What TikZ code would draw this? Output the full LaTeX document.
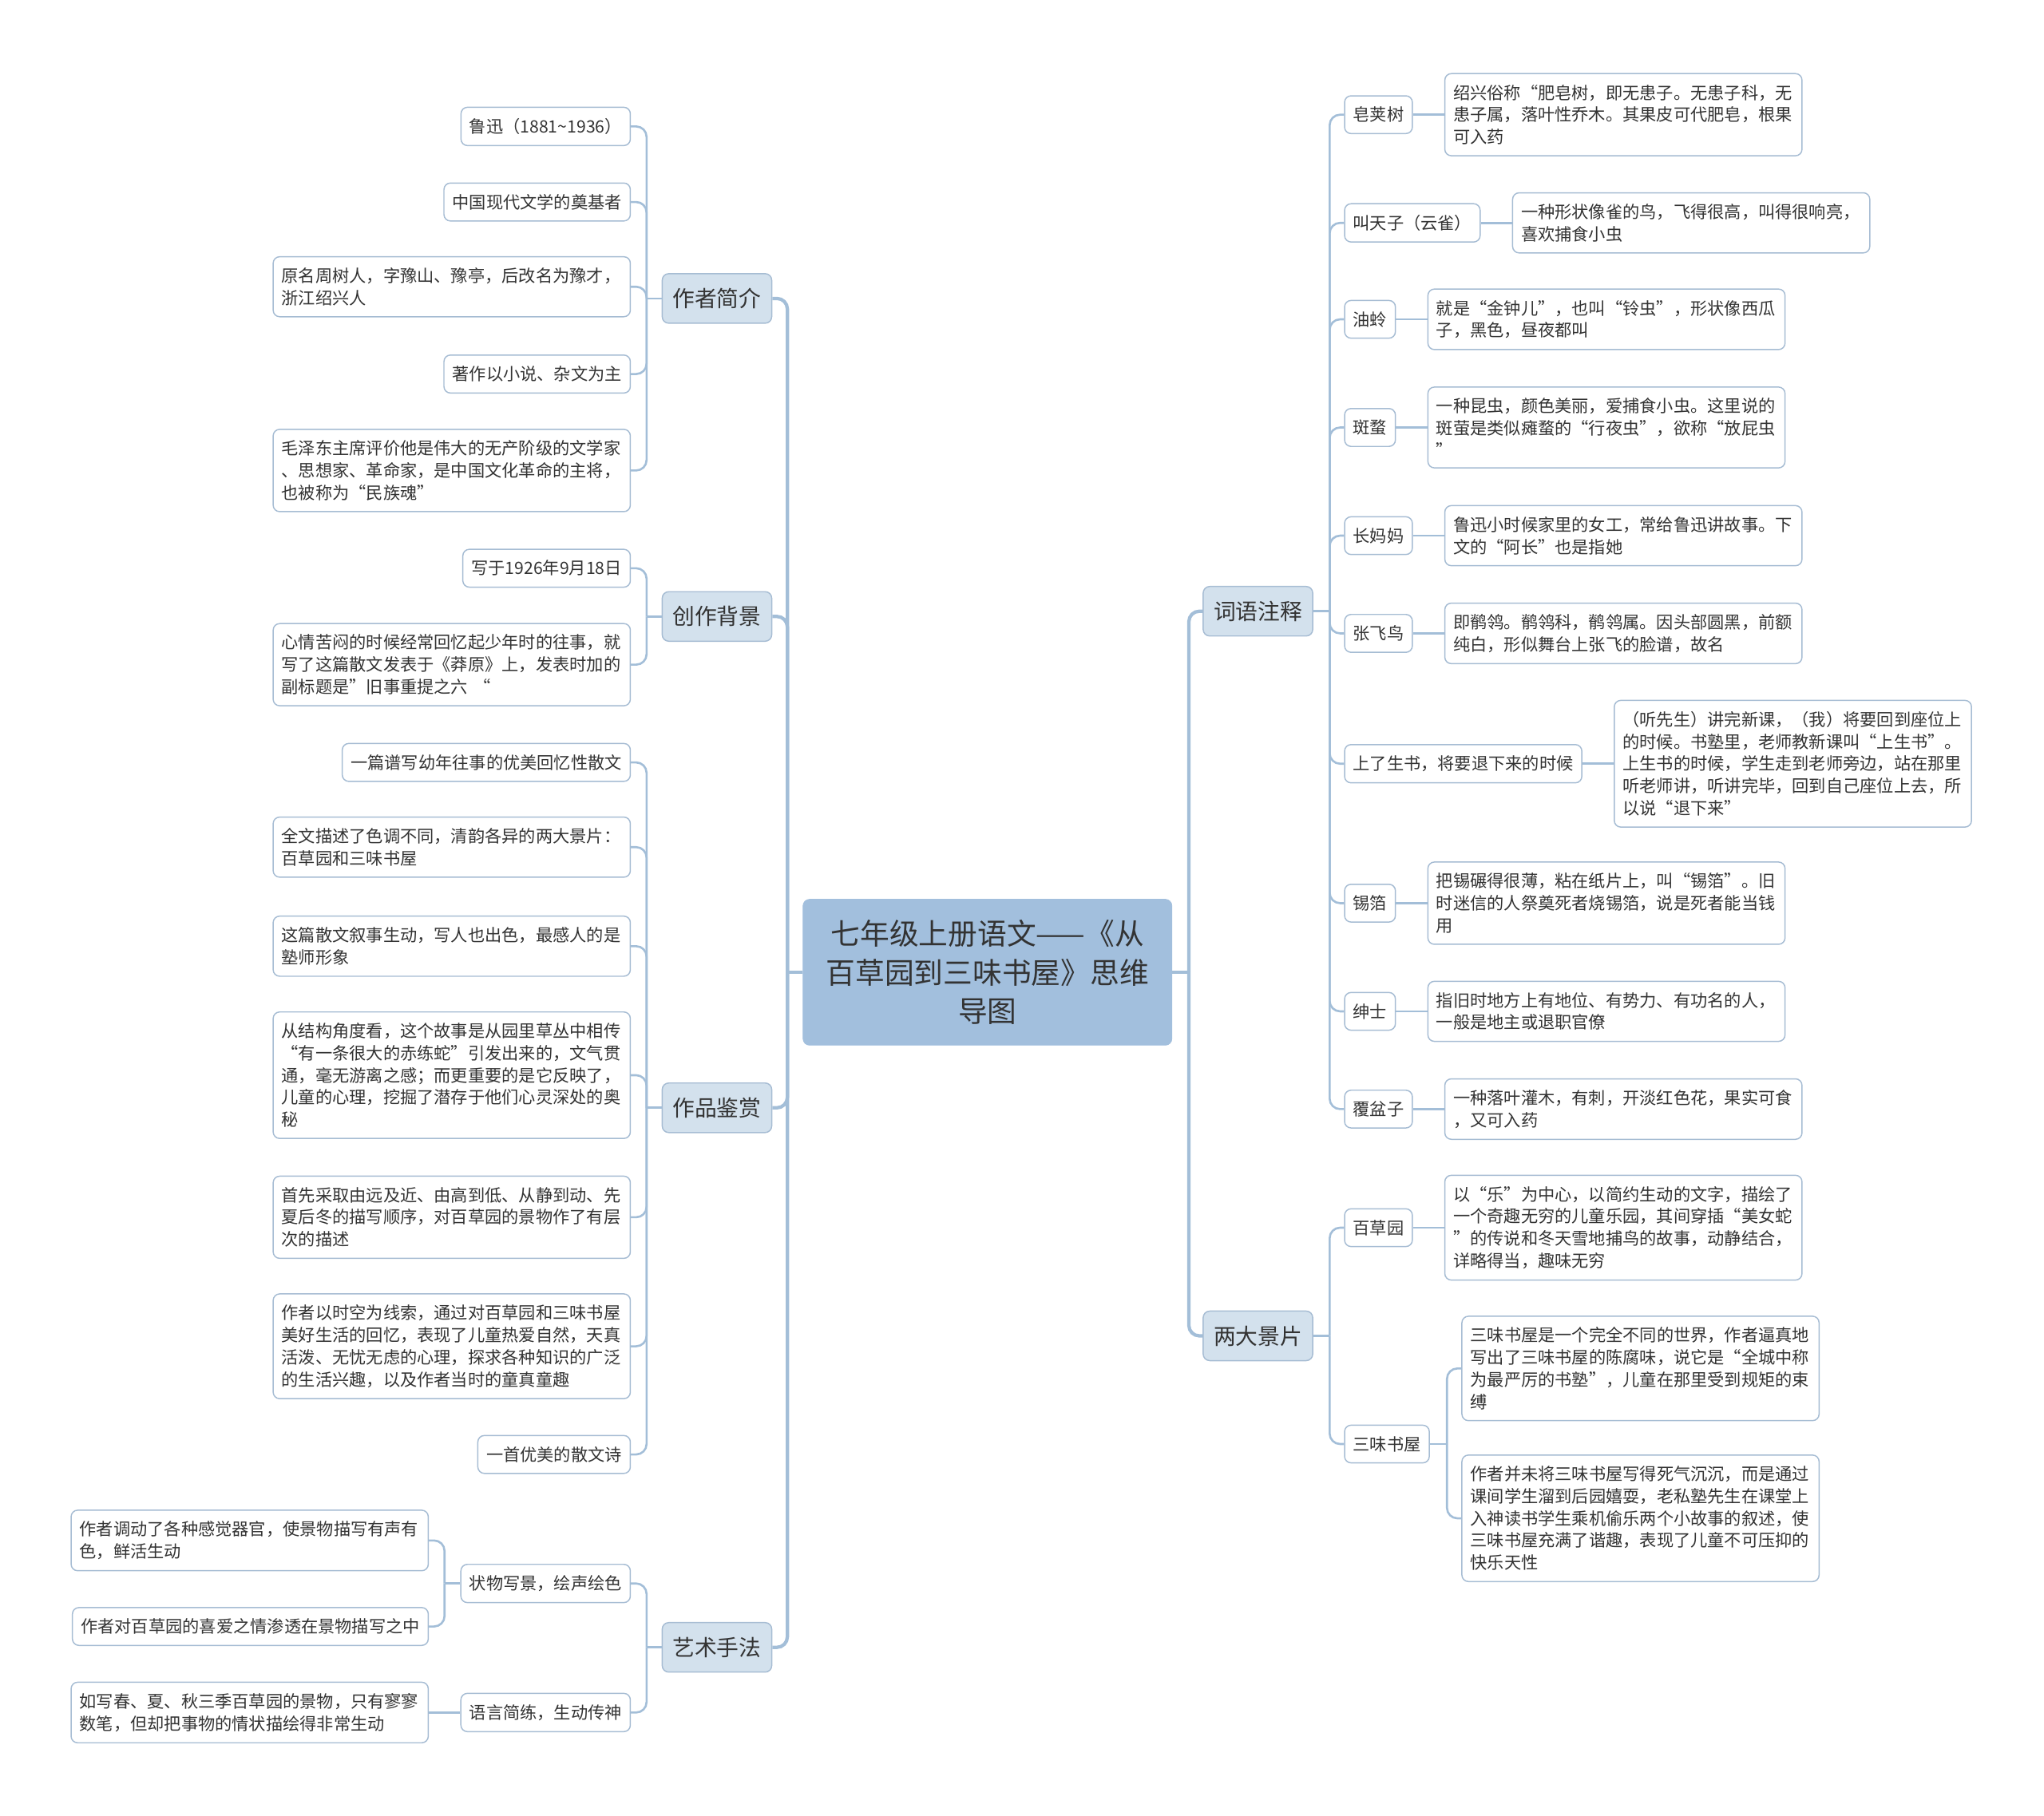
\documentclass[tikz,border=0pt]{standalone}
\usepackage{fontspec}
\setmainfont{Noto Sans CJK SC}
\definecolor{linec}{HTML}{A3BED8}
\definecolor{bordc}{HTML}{A6BCD3}
\definecolor{mainc}{HTML}{A2BFDD}
\definecolor{lonec}{HTML}{D3E1ED}
\definecolor{txtc}{HTML}{333333}
\newcommand\mysmall{\fontsize{13}{17}\selectfont}
\newcommand\mymid{\fontsize{17}{20}\selectfont}
\newcommand\mybig{\fontsize{22.5}{29.5}\selectfont}
\tikzset{
  leaf/.style={draw=bordc, line width=0.9pt, rounded corners=5pt, fill=white, text=txtc,
    font=\mysmall, inner xsep=6.5pt, inner ysep=8.5pt, align=left},
  wide/.style={leaf, text width=261pt},
  lone/.style={draw=bordc, line width=0.9pt, rounded corners=5pt, fill=lonec, text=txtc,
    font=\mymid, minimum width=84pt, minimum height=38pt, inner sep=0pt},
  root/.style={draw=mainc, fill=mainc, rounded corners=5pt, text=black!80, font=\mybig,
    minimum width=283pt, minimum height=112pt, text width=262pt, align=center, inner sep=0pt},
  mline/.style={draw=linec, line width=2.6pt, rounded corners=8pt},
  sline/.style={draw=linec, line width=1.6pt, rounded corners=8pt},
}
\begin{document}
\begin{tikzpicture}[x=1pt,y=-1pt]
\useasboundingbox (0,0) rectangle (1568,1393);

% root
\node[root] (root) at (757.5,746) {七年级上册语文——《从\\百草园到三味书屋》思维\\导图};

% level 1
\node[lone] (zz) at (550,229) {作者简介};
\node[lone] (cz) at (550,473) {创作背景};
\node[lone] (zp) at (550,850) {作品鉴赏};
\node[lone] (ys) at (550,1264) {艺术手法};
\node[lone] (cy) at (965,469) {词语注释};
\node[lone] (lj) at (965,1025) {两大景片};

% 作者简介
\node[leaf, anchor=east] (a1) at (484,97) {鲁迅（1881\textasciitilde 1936）};
\node[leaf, anchor=east] (a2) at (484,155) {中国现代文学的奠基者};
\node[wide, anchor=east] (a3) at (484,220) {原名周树人，字豫山、豫亭，后改名为豫才，\\浙江绍兴人};
\node[leaf, anchor=east] (a4) at (484,287) {著作以小说、杂文为主};
\node[wide, anchor=east] (a5) at (484,361) {毛泽东主席评价他是伟大的无产阶级的文学家\\、思想家、革命家，是中国文化革命的主将，\\也被称为“民族魂”};

% 创作背景
\node[leaf, anchor=east] (b1) at (484,436) {写于1926年9月18日};
\node[wide, anchor=east] (b2) at (484,510) {心情苦闷的时候经常回忆起少年时的往事，就\\写了这篇散文发表于《莽原》上，发表时加的\\副标题是”旧事重提之六 “};

% 作品鉴赏
\node[leaf, anchor=east] (c1) at (484,585) {一篇谱写幼年往事的优美回忆性散文};
\node[wide, anchor=east] (c2) at (484,650) {全文描述了色调不同，清韵各异的两大景片：\\百草园和三味书屋};
\node[wide, anchor=east] (c3) at (484,726) {这篇散文叙事生动，写人也出色，最感人的是\\塾师形象};
\node[wide, anchor=east] (c4) at (484,825) {从结构角度看，这个故事是从园里草丛中相传\\“有一条很大的赤练蛇”引发出来的，文气贯\\通，毫无游离之感；而更重要的是它反映了，\\儿童的心理，挖掘了潜存于他们心灵深处的奥\\秘};
\node[wide, anchor=east] (c5) at (484,934) {首先采取由远及近、由高到低、从静到动、先\\夏后冬的描写顺序，对百草园的景物作了有层\\次的描述};
\node[wide, anchor=east] (c6) at (484,1033) {作者以时空为线索，通过对百草园和三味书屋\\美好生活的回忆，表现了儿童热爱自然，天真\\活泼、无忧无虑的心理，探求各种知识的广泛\\的生活兴趣，以及作者当时的童真童趣};
\node[leaf, anchor=east] (c7) at (484,1116) {一首优美的散文诗};

% 艺术手法
\node[leaf, anchor=east] (d1) at (484,1215) {状物写景，绘声绘色};
\node[leaf, anchor=east] (d2) at (484,1314) {语言简练，生动传神};
\node[wide, anchor=east] (d1a) at (329,1182) {作者调动了各种感觉器官，使景物描写有声有\\色，鲜活生动};
\node[leaf, anchor=east] (d1b) at (329,1248) {作者对百草园的喜爱之情渗透在景物描写之中};
\node[wide, anchor=east] (d2a) at (329,1314) {如写春、夏、秋三季百草园的景物，只有寥寥\\数笔，但却把事物的情状描绘得非常生动};

% 词语注释
\node[leaf, anchor=west] (e1) at (1031,88) {皂荚树};
\node[leaf, anchor=west] (e2) at (1031,171) {叫天子（云雀）};
\node[leaf, anchor=west] (e3) at (1031,245) {油蛉};
\node[leaf, anchor=west] (e4) at (1031,328) {斑蝥};
\node[leaf, anchor=west] (e5) at (1031,411) {长妈妈};
\node[leaf, anchor=west] (e6) at (1031,486) {张飞鸟};
\node[leaf, anchor=west] (e7) at (1031,586) {上了生书，将要退下来的时候};
\node[leaf, anchor=west] (e8) at (1031,693) {锡箔};
\node[leaf, anchor=west] (e9) at (1031,776) {绅士};
\node[leaf, anchor=west] (e10) at (1031,851) {覆盆子};

\node[wide, anchor=west] (e1d) at ([xshift=24pt]e1.east) {绍兴俗称“肥皂树，即无患子。无患子科，无\\患子属，落叶性乔木。其果皮可代肥皂，根果\\可入药};
\node[wide, anchor=west] (e2d) at ([xshift=24pt]e2.east) {一种形状像雀的鸟，飞得很高，叫得很响亮，\\喜欢捕食小虫};
\node[wide, anchor=west] (e3d) at ([xshift=24pt]e3.east) {就是“金钟儿”，也叫“铃虫”，形状像西瓜\\子，黑色，昼夜都叫};
\node[wide, anchor=west] (e4d) at ([xshift=24pt]e4.east) {一种昆虫，颜色美丽，爱捕食小虫。这里说的\\斑萤是类似瘫蝥的“行夜虫”，欲称“放屁虫\\”};
\node[wide, anchor=west] (e5d) at ([xshift=24pt]e5.east) {鲁迅小时候家里的女工，常给鲁迅讲故事。下\\文的“阿长”也是指她};
\node[wide, anchor=west] (e6d) at ([xshift=24pt]e6.east) {即鹡鸰。鹡鸰科，鹡鸰属。因头部圆黑，前额\\纯白，形似舞台上张飞的脸谱，故名};
\node[wide, anchor=west] (e7d) at ([xshift=24pt]e7.east) {（听先生）讲完新课，（我）将要回到座位上\\的时候。书塾里，老师教新课叫“上生书”。\\上生书的时候，学生走到老师旁边，站在那里\\听老师讲，听讲完毕，回到自己座位上去，所\\以说“退下来”};
\node[wide, anchor=west] (e8d) at ([xshift=24pt]e8.east) {把锡碾得很薄，粘在纸片上，叫“锡箔”。旧\\时迷信的人祭奠死者烧锡箔，说是死者能当钱\\用};
\node[wide, anchor=west] (e9d) at ([xshift=24pt]e9.east) {指旧时地方上有地位、有势力、有功名的人，\\一般是地主或退职官僚};
\node[wide, anchor=west] (e10d) at ([xshift=24pt]e10.east) {一种落叶灌木，有刺，开淡红色花，果实可食\\，又可入药};

% 两大景片
\node[leaf, anchor=west] (f1) at (1031,942) {百草园};
\node[leaf, anchor=west] (f2) at (1031,1108) {三味书屋};
\node[wide, anchor=west] (f1d) at ([xshift=24pt]f1.east) {以“乐”为中心，以简约生动的文字，描绘了\\一个奇趣无穷的儿童乐园，其间穿插“美女蛇\\”的传说和冬天雪地捕鸟的故事，动静结合，\\详略得当，趣味无穷};
\node[wide, anchor=west] (f2a) at (1121,1050) {三味书屋是一个完全不同的世界，作者逼真地\\写出了三味书屋的陈腐味，说它是“全城中称\\为最严厉的书塾”，儿童在那里受到规矩的束\\缚};
\node[wide, anchor=west] (f2b) at (1121,1165) {作者并未将三味书屋写得死气沉沉，而是通过\\课间学生溜到后园嬉耍，老私塾先生在课堂上\\入神读书学生乘机偷乐两个小故事的叙述，使\\三味书屋充满了谐趣，表现了儿童不可压抑的\\快乐天性};

% ---------- connectors ----------
\coordinate (LJ) at (604,746);
\coordinate (RJ) at (912,746);
\draw[mline] (root.west) -- (LJ);
\draw[mline] (root.east) -- (RJ);
\foreach \n in {zz,cz,zp,ys} \draw[mline] (LJ) |- (\n.east);
\foreach \n in {cy,lj} \draw[mline] (RJ) |- (\n.west);

\coordinate (zzJ) at (496,229);
\draw[sline] (zz.west) -- (zzJ);
\foreach \n in {a1,a2,a3,a4,a5} \draw[sline] (zzJ) |- (\n.east);

\coordinate (czJ) at (496,473);
\draw[sline] (cz.west) -- (czJ);
\foreach \n in {b1,b2} \draw[sline] (czJ) |- (\n.east);

\coordinate (zpJ) at (496,850);
\draw[sline] (zp.west) -- (zpJ);
\foreach \n in {c1,c2,c3,c4,c5,c6,c7} \draw[sline] (zpJ) |- (\n.east);

\coordinate (ysJ) at (496,1264);
\draw[sline] (ys.west) -- (ysJ);
\foreach \n in {d1,d2} \draw[sline] (ysJ) |- (\n.east);

\coordinate (d1J) at (341,1215);
\draw[sline] (d1.west) -- (d1J);
\foreach \n in {d1a,d1b} \draw[sline] (d1J) |- (\n.east);
\draw[sline] (d2.west) -- (d2a.east);

\coordinate (cyJ) at (1020,469);
\draw[sline] (cy.east) -- (cyJ);
\foreach \n in {e1,e2,e3,e4,e5,e6,e7,e8,e9,e10} {
  \draw[sline] (cyJ) |- (\n.west);
  \draw[sline] (\n.east) -- (\n d.west);
}

\coordinate (ljJ) at (1020,1025);
\draw[sline] (lj.east) -- (ljJ);
\foreach \n in {f1,f2} \draw[sline] (ljJ) |- (\n.west);
\draw[sline] (f1.east) -- (f1d.west);

\coordinate (f2J) at (1110,1108);
\draw[sline] (f2.east) -- (f2J);
\foreach \n in {f2a,f2b} \draw[sline] (f2J) |- (\n.west);
\end{tikzpicture}
\end{document}
